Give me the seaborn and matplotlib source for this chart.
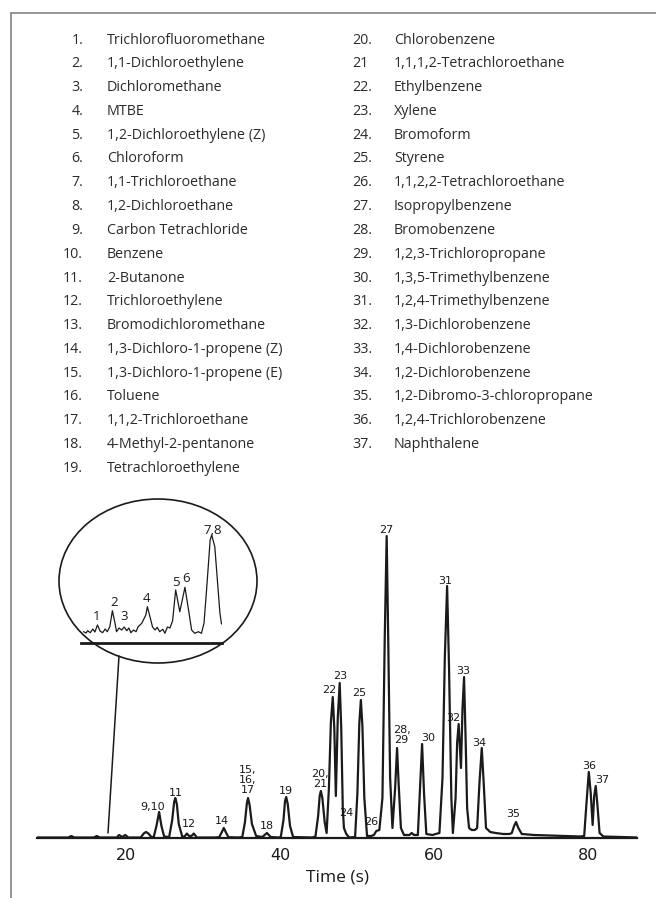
import matplotlib
matplotlib.use("Agg")
import matplotlib.pyplot as plt
from matplotlib.patches import Ellipse
from matplotlib.lines import Line2D
import pandas as pd
import seaborn as sns

# compound list (two columns)
numbers_left = ["1.", "2.", "3.", "4.", "5.", "6.", "7.", "8.", "9.", "10.",
                "11.", "12.", "13.", "14.", "15.", "16.", "17.", "18.", "19."]
names_left = ["Trichlorofluoromethane", "1,1-Dichloroethylene", "Dichloromethane", "MTBE",
              "1,2-Dichloroethylene (Z)", "Chloroform", "1,1-Trichloroethane",
              "1,2-Dichloroethane", "Carbon Tetrachloride", "Benzene", "2-Butanone",
              "Trichloroethylene", "Bromodichloromethane", "1,3-Dichloro-1-propene (Z)",
              "1,3-Dichloro-1-propene (E)", "Toluene", "1,1,2-Trichloroethane",
              "4-Methyl-2-pentanone", "Tetrachloroethylene"]
numbers_right = ["20.", "21", "22.", "23.", "24.", "25.", "26.", "27.", "28.", "29.",
                 "30.", "31.", "32.", "33.", "34.", "35.", "36.", "37."]
names_right = ["Chlorobenzene", "1,1,1,2-Tetrachloroethane", "Ethylbenzene", "Xylene",
               "Bromoform", "Styrene", "1,1,2,2-Tetrachloroethane", "Isopropylbenzene",
               "Bromobenzene", "1,2,3-Trichloropropane", "1,3,5-Trimethylbenzene",
               "1,2,4-Trimethylbenzene", "1,3-Dichlorobenzene", "1,4-Dichlorobenzene",
               "1,2-Dichlorobenzene", "1,2-Dibromo-3-chloropropane",
               "1,2,4-Trichlorobenzene", "Naphthalene"]

# chromatogram trace: (time s, signal)
main_trace = [
    (8.4, 0.5), (12.5, 0.5), (12.9, 2), (13.3, 0.5), (15.8, 0.5), (16.2, 2), (16.6, 0.5),
    (18.8, 0.5), (19.1, 3), (19.5, 1), (19.9, 3), (20.3, 0.5), (21.9, 0.5), (22.3, 4.5),
    (22.6, 6), (22.9, 4.5), (23.3, 1), (23.6, 1), (23.95, 12), (24.3, 26), (24.6, 12),
    (24.95, 1.5), (25.6, 1), (26.0, 18), (26.25, 36), (26.4, 40), (26.6, 34), (26.85, 14),
    (27.3, 1.5), (27.6, 1.5), (27.9, 4.5), (28.2, 2), (28.5, 2), (28.8, 4.5), (29.2, 0.5),
    (31.5, 0.5), (32.1, 0.8), (32.45, 6), (32.7, 10), (32.95, 6), (33.3, 0.8), (34.6, 0.5),
    (35.1, 1), (35.45, 16), (35.7, 35), (35.85, 40), (36.05, 33), (36.35, 14), (36.9, 2),
    (37.7, 1), (38.3, 5), (38.8, 1), (39.8, 0.5), (40.1, 1), (40.45, 18), (40.65, 37),
    (40.8, 41), (41.0, 34), (41.3, 12), (41.7, 1), (44.2, 0.5), (44.6, 1.5), (44.95, 22),
    (45.15, 42), (45.3, 47), (45.5, 40), (45.8, 16), (46.05, 5), (46.35, 50), (46.6, 115),
    (46.85, 141), (47.05, 110), (47.25, 42), (47.5, 120), (47.75, 155), (47.95, 110),
    (48.15, 30), (48.3, 10), (48.6, 4), (49.0, 0.5), (49.75, 1), (50.05, 45), (50.3, 115),
    (50.5, 138), (50.7, 112), (50.95, 40), (51.3, 2), (51.8, 2), (52.2, 3), (52.5, 7),
    (52.9, 8), (53.3, 40), (53.6, 200), (53.85, 302), (54.05, 200), (54.3, 60), (54.6, 10),
    (54.95, 50), (55.2, 90), (55.4, 55), (55.7, 10), (56.1, 3), (56.8, 3), (57.1, 5),
    (57.4, 3), (57.9, 3), (58.15, 45), (58.45, 94), (58.7, 45), (59.0, 4), (59.8, 3),
    (60.2, 4), (60.7, 5), (61.1, 60), (61.4, 180), (61.7, 252), (61.95, 170), (62.25, 40),
    (62.45, 5), (62.8, 40), (63.0, 95), (63.2, 114), (63.5, 70), (63.7, 130), (63.9, 161),
    (64.1, 100), (64.3, 30), (64.55, 10), (64.9, 8), (65.3, 8), (65.6, 10), (65.9, 55),
    (66.2, 90), (66.45, 55), (66.75, 10), (67.3, 6), (68.0, 5), (69.0, 4), (69.8, 4),
    (70.1, 5), (70.4, 12), (70.65, 16), (70.95, 10), (71.4, 4), (73.0, 3), (75.0, 2.5),
    (77.0, 2), (79.0, 1.5), (79.5, 2), (79.8, 35), (80.1, 66), (80.35, 45), (80.6, 13),
    (80.8, 42), (81.0, 52), (81.2, 35), (81.5, 5), (82.0, 1.5), (86.4, 0.5),
]

# peak labels: text, time, signal
peak_text = ["9,10", "11", "12", "14", "15,\n16,\n17", "18", "19", "20,\n21", "22", "23",
             "24", "25", "26", "27", "28,\n29", "30", "31", "32", "33", "34", "35", "36", "37"]
peak_time = [23.5, 26.45, 28.2, 32.5, 35.85, 38.3, 40.8, 45.2, 46.4, 47.8,
             48.65, 50.3, 51.8, 53.85, 55.8, 59.2, 61.5, 62.5, 63.8, 65.9, 70.3, 80.2, 81.8]
peak_signal = [31, 45, 14, 17, 58, 12, 47, 59, 148, 162,
               25, 145, 16, 308, 103, 100, 257, 120, 167, 95, 24, 72, 58]

# zoomed inset of the early part of the run
inset_trace = [
    (18.03, 11.3), (18.08, 10), (18.11, 12.3), (18.16, 10.3), (18.21, 14), (18.25, 11),
    (18.30, 18), (18.35, 12), (18.40, 10.3), (18.45, 14), (18.49, 11.3), (18.54, 16.3),
    (18.59, 32.3), (18.64, 20), (18.67, 11.3), (18.72, 15), (18.77, 13), (18.82, 16),
    (18.87, 12.3), (18.91, 15), (18.95, 10.3), (19.0, 13), (19.05, 11.3), (19.09, 16.3),
    (19.16, 19.7), (19.24, 28), (19.27, 36.3), (19.32, 26.3), (19.37, 16), (19.42, 13),
    (19.46, 15.7), (19.51, 11.3), (19.57, 13.7), (19.61, 9.7), (19.66, 16), (19.71, 15),
    (19.76, 22.3), (19.82, 53), (19.90, 31.3), (20.0, 55.7), (20.06, 36.3), (20.13, 13),
    (20.19, 9.7), (20.26, 11.3), (20.32, 9.7), (20.37, 19.7), (20.42, 53), (20.49, 103),
    (20.52, 108), (20.58, 96.3), (20.63, 63), (20.68, 29.7), (20.71, 19),
]
inset_text = ["1", "2", "3", "4", "5", "6", "7,8"]
inset_label_time = [18.29, 18.62, 18.82, 19.26, 19.83, 20.02, 20.54]
inset_label_signal = [26, 41, 26, 45, 61, 64, 112]

main_ticks = [20, 40, 60, 80]
inset_ticks = [18, 19, 20]

sns.set_style("white")
plt.rcParams["font.family"] = ["DejaVu Sans"]

W, H = 656, 898
fig = plt.figure(figsize=(W / 100, H / 100), dpi=100)


def fx(px):
    return px / W


def fy(py):
    return 1 - py / H


ink = "#1a1a1a"
text_ink = "#2b2b2b"

# frame lines
fig.add_artist(Line2D([fx(11), fx(11)], [fy(13), 0], transform=fig.transFigure,
                      color="#8c8c8c", lw=1.3))
fig.add_artist(Line2D([fx(11), 1], [fy(13), fy(13)], transform=fig.transFigure,
                      color="#8c8c8c", lw=1.3))

# compound list
row0, step = 40, 23.8
for i, (num, name) in enumerate(zip(numbers_left, names_left)):
    y = fy(row0 + i * step)
    fig.text(fx(83), y, num, ha="right", va="center", fontsize=10.3,
             family="Open Sans", color=text_ink)
    fig.text(fx(107), y, name, ha="left", va="center", fontsize=10.3,
             family="Open Sans", color=text_ink)
for i, (num, name) in enumerate(zip(numbers_right, names_right)):
    y = fy(row0 + i * step)
    fig.text(fx(352), y, num, ha="left", va="center", fontsize=10.3,
             family="Open Sans", color=text_ink)
    fig.text(fx(394), y, name, ha="left", va="center", fontsize=10.3,
             family="Open Sans", color=text_ink)

# main chromatogram
ax = fig.add_axes([fx(37), fy(838), 600 / W, 318 / H])
df = pd.DataFrame(main_trace, columns=["time", "signal"])
sns.lineplot(data=df, x="time", y="signal", sort=False, estimator=None,
             color=ink, lw=1.6, ax=ax)
ax.set_xlim(8.44, 86.36)
ax.set_ylim(0, 318)
for s in ["top", "right", "left"]:
    ax.spines[s].set_visible(False)
ax.spines["bottom"].set_linewidth(1.6)
ax.spines["bottom"].set_color(ink)
ax.set_yticks([])
ax.set_xticks(main_ticks)
ax.tick_params(axis="x", direction="out", length=5, width=1, color=ink,
               labelsize=11.5, pad=2, labelcolor=ink)
ax.set_ylabel("")
ax.set_xlabel("Time (s)", fontsize=12.5, family="Open Sans", color=ink, labelpad=5)
for t, x, y in zip(peak_text, peak_time, peak_signal):
    ax.text(x, y, t, ha="center", va="center", fontsize=8, color=ink,
            linespacing=1.0)

# inset
ell = Ellipse((fx(158), fy(581)), 198 / W, 164 / H, transform=fig.transFigure,
              fill=False, edgecolor=ink, lw=1.2)
fig.add_artist(ell)
fig.add_artist(Line2D([fx(119), fx(108)], [fy(656), fy(833)], transform=fig.transFigure,
                      color=ink, lw=1.1))
ax2 = fig.add_axes([fx(81), fy(643), 141 / W, 118 / H])
ax2.patch.set_alpha(0)
di = pd.DataFrame(inset_trace, columns=["time", "signal"])
sns.lineplot(data=di, x="time", y="signal", sort=False, estimator=None,
             color=ink, lw=0.9, ax=ax2)
ax2.set_xlim(17.98, 20.72)
ax2.set_ylim(0, 118)
for s in ["top", "right", "left"]:
    ax2.spines[s].set_visible(False)
ax2.spines["bottom"].set_linewidth(2)
ax2.spines["bottom"].set_color(ink)
ax2.set_yticks([])
ax2.set_xticks(inset_ticks)
ax2.set_xticklabels([])
ax2.tick_params(axis="x", direction="out", length=3, width=1, color=ink)
ax2.set_xlabel("")
ax2.set_ylabel("")
for t, x, y in zip(inset_text, inset_label_time, inset_label_signal):
    ax2.text(x, y, t, ha="center", va="center", fontsize=9.5, color=ink,
             family="Open Sans")

fig.savefig("out.png", dpi=100)
